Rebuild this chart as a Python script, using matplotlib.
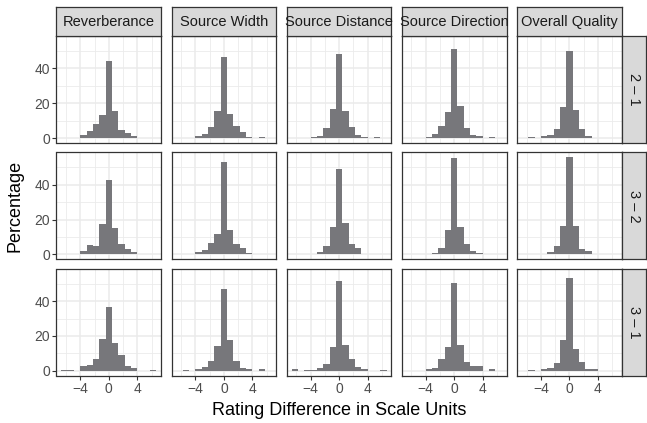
import numpy as np
import matplotlib
matplotlib.use("Agg")
import matplotlib.pyplot as plt

plt.rcParams['font.family'] = ['Liberation Sans', 'DejaVu Sans']

# --- data: percentage per histogram bin (15 bins from -20/3 to 20/3) ---
atributos = ["Reverberance", "Source Width", "Source Distance",
             "Source Direction", "Overall Quality"]
filas = ["2 – 1", "3 – 2", "3 – 1"]
bordes = np.linspace(-20 / 3, 20 / 3, 16)

pct_21 = [
    [0.3, 0.3, 0, 1.9, 4.0, 8.0, 13.1, 44.0, 15.4, 4.6, 3.0, 1.5, 0, 0.3, 0.3],
    [0, 0.3, 0, 1.1, 2.5, 6.5, 15.4, 46.3, 13.7, 6.9, 3.4, 0.8, 0, 0.6, 0],
    [0.3, 0, 0, 0.5, 1.3, 6.0, 17.0, 48.0, 15.4, 6.3, 1.7, 0.6, 0, 0.6, 0],
    [0, 0.3, 0, 0.8, 2.3, 7.2, 14.9, 51.4, 18.3, 5.7, 1.9, 1.1, 0, 0.6, 0],
    [0, 0.5, 0, 1.0, 1.9, 5.1, 17.9, 49.8, 16.0, 5.1, 1.1, 0.3, 0, 0, 0],
]
pct_32 = [
    [0, 0.3, 0, 1.9, 5.3, 4.8, 17.3, 43.0, 15.0, 5.9, 2.9, 1.3, 0, 0.3, 0.3],
    [0.3, 0, 0, 1.3, 2.5, 6.7, 11.8, 52.8, 13.9, 5.9, 3.6, 0.8, 0, 0, 0],
    [0, 0.3, 0, 0.3, 1.3, 4.6, 15.6, 49.2, 18.3, 6.0, 3.5, 0.3, 0, 0, 0],
    [0, 0, 0, 0, 0.8, 4.0, 13.9, 55.2, 15.6, 5.9, 1.9, 1.1, 0, 0.4, 0],
    [0, 0.3, 0, 0.3, 1.3, 4.8, 16.2, 55.8, 16.2, 3.4, 2.1, 0.3, 0, 0.3, 0],
]
pct_31 = [
    [0.3, 0.3, 0, 2.9, 3.4, 7.0, 18.5, 36.8, 16.2, 8.8, 3.0, 1.5, 0, 0, 0.3],
    [0, 0.3, 0, 1.1, 2.1, 5.7, 14.5, 47.0, 17.7, 5.9, 1.9, 1.3, 0, 0.8, 0],
    [0.8, 0, 0.3, 0.3, 1.5, 4.2, 13.9, 51.6, 14.6, 7.0, 2.3, 1.2, 0, 0, 0.3],
    [0, 0, 0, 0.8, 1.5, 7.0, 13.9, 50.5, 14.7, 4.8, 3.0, 2.5, 0, 1.0, 0],
    [0, 0.3, 0, 1.3, 1.9, 4.6, 17.7, 53.4, 12.8, 5.3, 0.8, 0.8, 0, 0, 0],
]
datos = [pct_21, pct_32, pct_31]

# --- layout in pixels ---
W, H = 647, 423
fig = plt.figure(figsize=(W / 100, H / 100), dpi=100)

def caja(x0, y0, x1, y1):
    return [x0 / W, 1 - y1 / H, (x1 - x0) / W, (y1 - y0) / H]

izq, der = 56.5, 621.7
arriba, abajo = 36.0, 375.7
ancho = 104.6
gx = (der - izq - 5 * ancho) / 4
alto = 107.0
gy = (abajo - arriba - 3 * alto) / 2

borde = "#333333"
gris_barra = "#77777b"
rango_x = (-20 / 3 - 2 / 3, 20 / 3 + 2 / 3)
ymax = 55.8
rango_y = (-0.05 * ymax, 1.05 * ymax)

def tira(rect):
    st = fig.add_axes(rect)
    st.set_facecolor("#D9D9D9")
    st.set_xticks([])
    st.set_yticks([])
    for s in st.spines.values():
        s.set_color(borde)
        s.set_linewidth(0.9)
    return st

for i in range(3):
    y0 = arriba + i * (alto + gy)
    for j in range(5):
        x0 = izq + j * (ancho + gx)
        ax = fig.add_axes(caja(x0, y0, x0 + ancho, y0 + alto))
        ax.bar(bordes[:-1], datos[i][j], width=np.diff(bordes), align="edge",
               color=gris_barra, linewidth=0)
        ax.set_xlim(rango_x)
        ax.set_ylim(rango_y)
        ax.set_xticks([-4, 0, 4])
        ax.set_xticks([-6, -2, 2, 6], minor=True)
        ax.set_yticks([0, 20, 40])
        ax.set_yticks([10, 30, 50], minor=True)
        ax.set_axisbelow(True)
        ax.grid(which="major", color="#EBEBEB", linewidth=1.1)
        ax.grid(which="minor", color="#EBEBEB", linewidth=0.6)
        for s in ax.spines.values():
            s.set_color(borde)
            s.set_linewidth(0.9)
        ax.tick_params(which="major", length=2.75, width=0.8, color=borde,
                       labelsize=10, labelcolor="#4D4D4D", pad=2)
        ax.tick_params(which="minor", length=0)
        if j > 0:
            ax.tick_params(axis="y", which="major", length=0, labelleft=False)
        if i < 2:
            ax.tick_params(axis="x", which="major", length=0, labelbottom=False)

        # top strips (text clipped to the strip like ggplot)
        if i == 0:
            st = tira(caja(x0, 6.7, x0 + ancho, arriba))
            t = st.text(0.5, 0.47, atributos[j], transform=st.transAxes,
                        ha="center", va="center", fontsize=10.5,
                        color="#1A1A1A")
            t.set_clip_path(st.patch)

    # right strips
    st = tira(caja(der, y0, 646.0, y0 + alto))
    st.text(0.5, 0.5, filas[i], transform=st.transAxes, rotation=-90,
            ha="center", va="center", fontsize=10.5, color="#1A1A1A")

fig.text(15 / W, 1 - (arriba + abajo) / 2 / H, "Percentage", rotation=90,
         ha="center", va="center", fontsize=13)
fig.text((izq + der) / 2 / W, 1 - 410 / H, "Rating Difference in Scale Units",
         ha="center", va="center", fontsize=13)

fig.savefig("out.png", dpi=100, facecolor="white")
